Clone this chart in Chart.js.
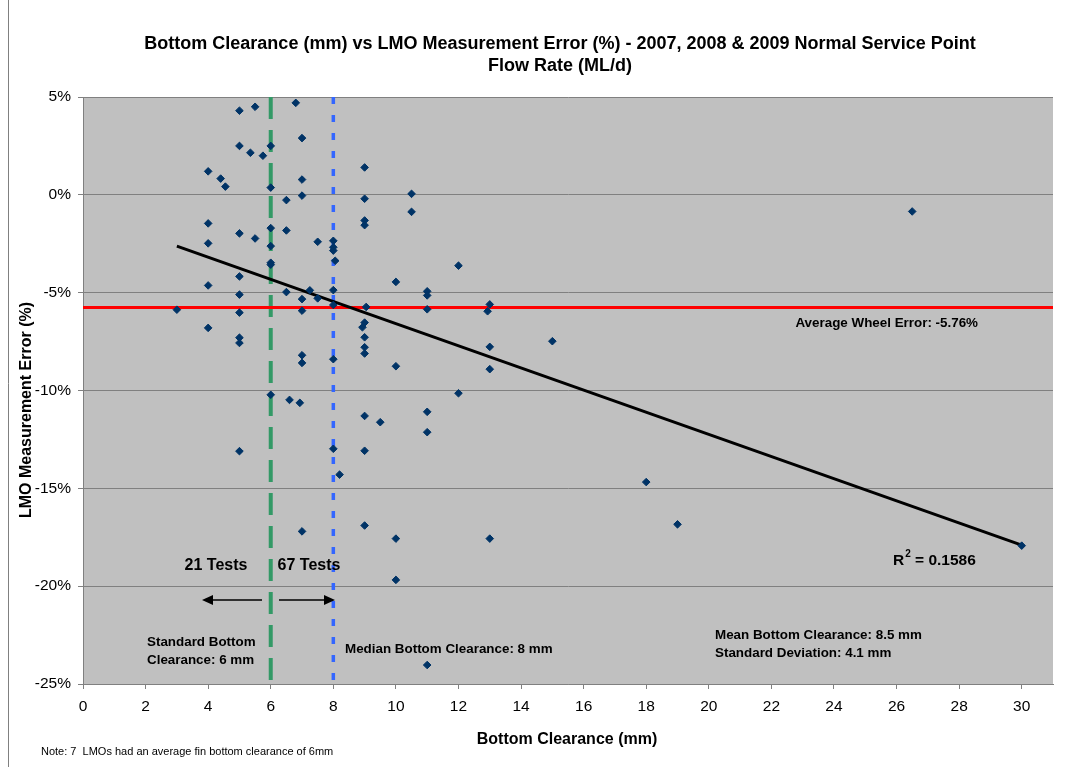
<!DOCTYPE html>
<html>
<head>
<meta charset="utf-8">
<script src="https://cdn.jsdelivr.net/npm/chart.js@4"></script>
<style>
html,body{margin:0;padding:0;background:#fff;}
#wrap{width:1074px;height:767px;position:relative;}
</style>
</head>
<body>
<div id="wrap"><canvas id="c" width="1074" height="767"></canvas></div>
<script>
// ---- data ----
const clearanceMm = [5,5.5,6.8,7,5,5.35,5.75,6,4,4.4,4.55,6,7,7,6.5,4,5,5.5,6,6.5,7.5,8,4,6,8,8,8.06,6,6,5,4,5,6.5,7.25,7,7.5,8,8,3,5,7,4,5,5,7,7,8,6,6.6,6.93,5,8,8.2,7,9,10.5,9,10.5,9,9,12,10,11,11,9.05,9,8.93,11,13,12.93,9,9,9,13,10,13,12,9,9.5,11,11,9,9,10,10,13,11,15,18,19,30,26.5];
const errorPct = [4.3,4.5,4.7,2.9,2.5,2.15,2.0,2.5,1.2,0.83,0.42,0.37,0.78,-0.04,-0.27,-1.46,-1.97,-2.23,-1.7,-1.82,-2.4,-2.35,-2.48,-2.62,-2.68,-2.85,-3.37,-3.47,-3.57,-4.17,-4.63,-5.1,-4.97,-4.88,-5.33,-5.29,-4.87,-5.63,-5.87,-6.02,-5.92,-6.8,-7.3,-7.57,-8.2,-8.59,-8.4,-10.22,-10.48,-10.63,-13.1,-12.98,-14.3,-17.2,1.4,0.05,-0.2,-0.87,-1.31,-1.55,-3.62,-4.45,-4.93,-5.14,-5.73,-6.53,-6.77,-5.85,-5.6,-5.95,-7.28,-7.79,-8.11,-7.77,-8.76,-8.91,-10.14,-11.3,-11.62,-11.09,-12.13,-13.08,-16.9,-17.57,-19.68,-17.57,-24.03,-7.48,-14.68,-16.84,-17.93,-0.85];
const trendX = [3,30];
const trendY = [-2.62,-17.9];
const averageError = -5.76;
const standardClearance = 6;
const medianClearance = 8;
const xRange = [0,31];
const yRange = [-25,5];
const yTickStep = 5;
const xTickStep = 2;

const scatterPts = clearanceMm.map((x,i)=>({x:x,y:errorPct[i]}));
const trendPts = trendX.map((x,i)=>({x:x,y:trendY[i]}));
const avgPts = [{x:xRange[0],y:averageError},{x:xRange[1],y:averageError}];
const stdPts = [{x:standardClearance,y:yRange[1]},{x:standardClearance,y:yRange[0]}];
const medPts = [{x:medianClearance,y:yRange[1]},{x:medianClearance,y:yRange[0]}];

const FONT = "'Liberation Sans', Arial, sans-serif";

const bgPlugin = {
  id:'bg',
  beforeDraw(chart){
    const {ctx, chartArea:a} = chart;
    ctx.save();
    ctx.fillStyle='#fff';
    ctx.fillRect(0,0,chart.width,chart.height);
    ctx.fillStyle='#C0C0C0';
    ctx.fillRect(a.left,a.top,a.right-a.left,a.bottom-a.top);
    ctx.strokeStyle='#808080';
    ctx.lineWidth=1;
    ctx.beginPath();ctx.moveTo(8.5,0);ctx.lineTo(8.5,chart.height);ctx.stroke();
    ctx.restore();
  }
};

function arrow(ctx,x1,y,x2){
  const dir = x2>x1?1:-1;
  ctx.beginPath();
  ctx.moveTo(x1,y);ctx.lineTo(x2-dir*8,y);
  ctx.stroke();
  ctx.beginPath();
  ctx.moveTo(x2,y);ctx.lineTo(x2-dir*11,y-5);ctx.lineTo(x2-dir*11,y+5);ctx.closePath();
  ctx.fill();
}

const textPlugin = {
  id:'texts',
  afterDraw(chart){
    const {ctx} = chart;
    ctx.save();
    ctx.fillStyle='#000';
    ctx.textBaseline='middle';
    // title
    ctx.font="bold 18px "+FONT;
    ctx.textAlign='center';
    ctx.fillText('Bottom Clearance (mm) vs LMO Measurement Error (%) - 2007, 2008 & 2009 Normal Service Point',560,44);
    ctx.fillText('Flow Rate (ML/d)',560,66);
    // axis titles
    ctx.font="bold 16px "+FONT;
    ctx.fillText('Bottom Clearance (mm)',567,740);
    ctx.save();
    ctx.translate(27,410);
    ctx.rotate(-Math.PI/2);
    ctx.font="bold 16px "+FONT;
    ctx.fillText('LMO Measurement Error (%)',0,0);
    ctx.restore();
    // note
    ctx.font="11px "+FONT;
    ctx.textAlign='left';
    ctx.fillText('Note: 7  LMOs had an average fin bottom clearance of 6mm',41,752);
    // tests labels
    ctx.font="bold 16px "+FONT;
    ctx.textAlign='center';
    ctx.fillText('21 Tests',216,566);
    ctx.fillText('67 Tests',309,566);
    // arrows
    ctx.strokeStyle='#000';ctx.lineWidth=1.5;
    arrow(ctx,262,600,202);
    arrow(ctx,279,600,335);
    // annotations
    ctx.font="bold 13.4px "+FONT;
    ctx.textAlign='left';
    ctx.fillText('Standard Bottom',147,642);
    ctx.fillText('Clearance: 6 mm',147,660);
    ctx.fillText('Median Bottom Clearance: 8 mm',345,649);
    ctx.fillText('Mean Bottom Clearance: 8.5 mm',715,635);
    ctx.fillText('Standard Deviation: 4.1 mm',715,653);
    ctx.textAlign='right';
    ctx.fillText('Average Wheel Error: -5.76%',978,323);
    // R^2
    ctx.font="bold 15.5px "+FONT;
    ctx.textAlign='left';
    ctx.fillText('R',893,561);
    const rw = ctx.measureText('R').width;
    ctx.font="bold 10px "+FONT;
    ctx.fillText('2',893+rw+1,554);
    const w2 = ctx.measureText('2').width;
    ctx.font="bold 15.5px "+FONT;
    ctx.fillText(' = 0.1586',893+rw+1+w2,561);
    ctx.restore();
  }
};

new Chart(document.getElementById('c'),{
  type:'scatter',
  data:{datasets:[
    {label:'pts',data:scatterPts,order:0,pointStyle:'rectRot',pointRadius:3.8,pointHoverRadius:3.8,
     backgroundColor:'#003366',borderColor:'#003366',borderWidth:1,showLine:false},
    {label:'trend',data:trendPts,order:1,type:'line',showLine:true,borderColor:'#000',borderWidth:3,pointRadius:0,fill:false},
    {label:'avg',data:avgPts,order:2,type:'line',showLine:true,borderColor:'#FF0000',borderWidth:3,pointRadius:0,fill:false},
    {label:'std',data:stdPts,order:3,type:'line',showLine:true,borderColor:'#339966',borderWidth:4,borderDash:[22,11],pointRadius:0,fill:false},
    {label:'med',data:medPts,order:3,type:'line',showLine:true,borderColor:'#3366FF',borderWidth:3.5,borderDash:[7,11],pointRadius:0,fill:false}
  ]},
  options:{
    responsive:false,animation:false,
    layout:{padding:{top:97,right:21,left:0,bottom:0}},
    plugins:{legend:{display:false},tooltip:{enabled:false},title:{display:false}},
    scales:{
      x:{type:'linear',min:xRange[0],max:xRange[1],
        afterFit(s){s.height=83;},
        border:{color:'#808080',width:1},
        grid:{drawOnChartArea:false,drawTicks:true,tickLength:5,color:'#808080'},
        ticks:{stepSize:xTickStep,includeBounds:false,color:'#000',font:{family:FONT,size:15.5},padding:8,maxRotation:0}
      },
      y:{type:'linear',min:yRange[0],max:yRange[1],
        afterFit(s){s.width=83;},
        border:{color:'#808080',width:1},
        grid:{color:'#808080',lineWidth:1,tickLength:5,drawTicks:true},
        ticks:{stepSize:yTickStep,color:'#000',font:{family:FONT,size:15.5},padding:7,callback:v=>v+'%'}
      }
    }
  },
  plugins:[bgPlugin,textPlugin]
});
</script>
</body>
</html>
